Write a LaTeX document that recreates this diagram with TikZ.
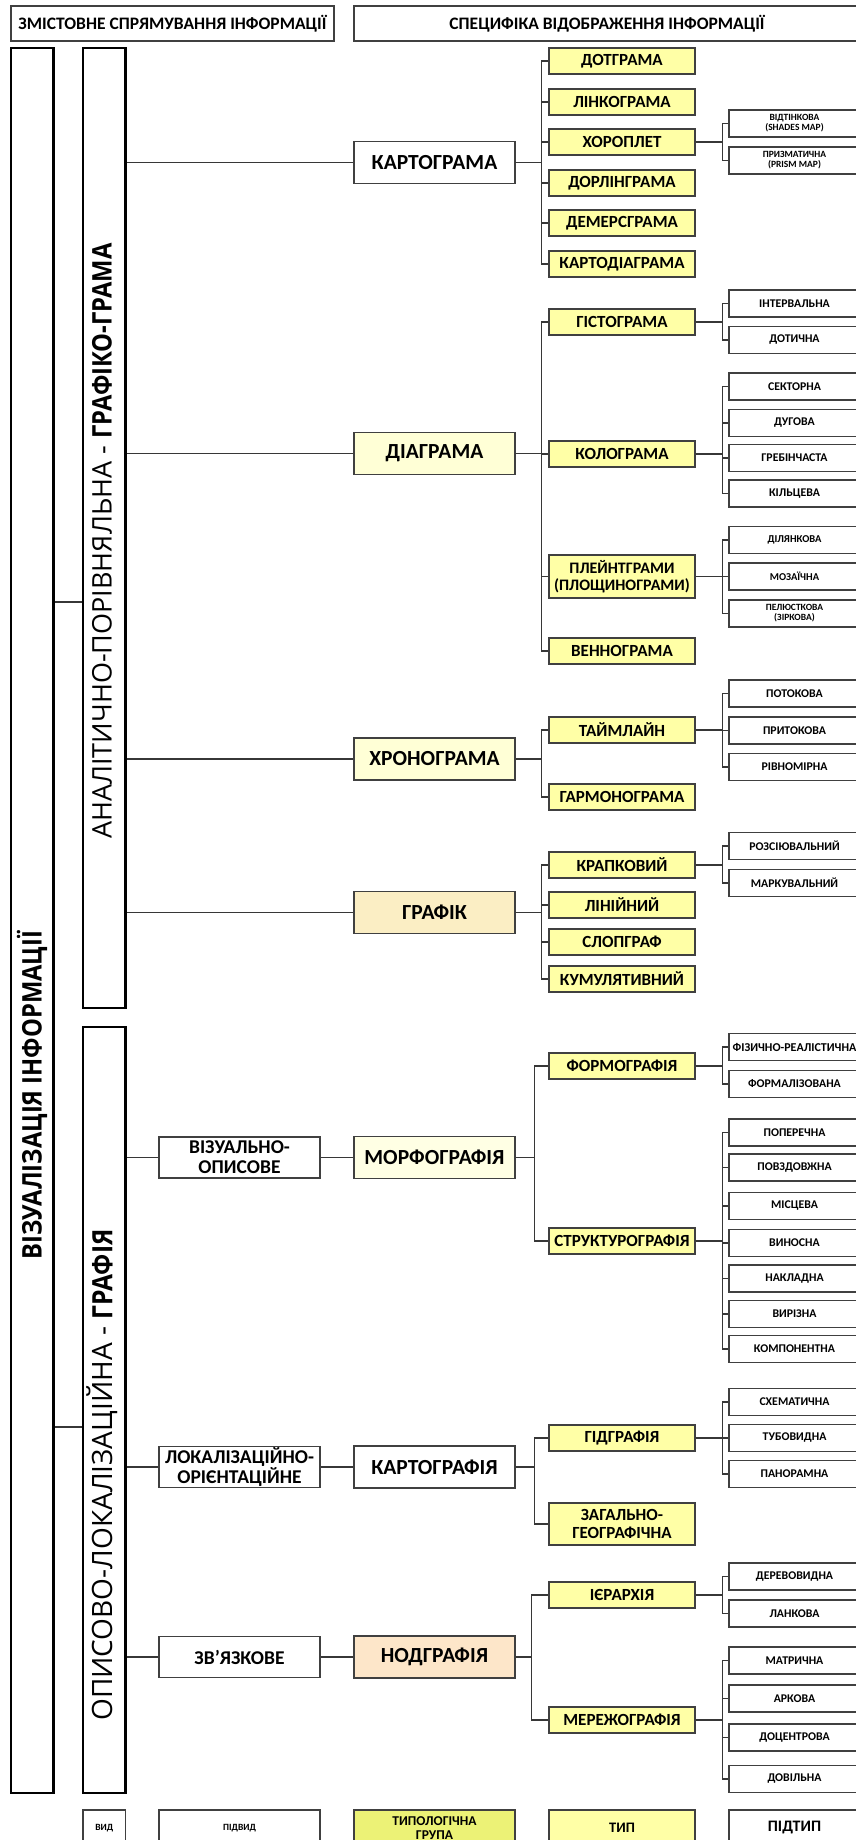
\documentclass[tikz,border=0pt]{standalone}
\usepackage{fontspec}
\setmainfont{Carlito}
\newfontfamily\gothic{Open Sans}
\newfontfamily\gothicn[FakeStretch=0.88]{Open Sans}
\definecolor{boxline}{RGB}{64,64,64}
\definecolor{linegray}{RGB}{55,55,55}
\definecolor{typeyellow}{RGB}{255,255,166}
\definecolor{paleyellow}{RGB}{255,255,214}
\definecolor{morphyellow}{RGB}{255,255,228}
\definecolor{grafikbeige}{RGB}{251,238,196}
\definecolor{nodpeach}{RGB}{253,230,201}
\definecolor{groupgreen}{RGB}{236,242,118}

\begin{document}
\begin{tikzpicture}[x=1pt,y=-1pt,
  box/.style={draw=boxline,line width=1.1pt,inner sep=1pt,align=center,text=black},
  grp/.style={box,fill=white,minimum width=161pt,minimum height=42pt,font=\fontsize{21.5}{23}\selectfont\bfseries},
  sub/.style={box,fill=white,minimum width=161pt,minimum height=41pt,font=\fontsize{19.5}{20}\selectfont\bfseries},
  typ/.style={box,fill=typeyellow,minimum width=146pt,minimum height=26pt,font=\fontsize{17}{18}\selectfont\bfseries},
  sty/.style={box,fill=white,minimum width=131pt,minimum height=27pt,font=\fontsize{11.8}{13}\selectfont\bfseries},
  tiny/.style={font=\fontsize{9.5}{10}\selectfont\bfseries},
  col/.style={draw=black,line width=2.6pt,inner sep=0pt,minimum width=42.5pt},
  link/.style={draw=linegray,line width=1.1pt},
]
  \useasboundingbox (0,0) rectangle (856,1840);
  \clip (0,0) rectangle (856,1840);

  % headers:
  \node[box,minimum width=323pt,minimum height=35pt,font=\fontsize{17.5}{18}\selectfont\bfseries] (hzmist) at (172.5,23.5) {ЗМІСТОВНЕ СПРЯМУВАННЯ ІНФОРМАЦІЇ};
  \node[box,minimum width=506pt,minimum height=35pt,font=\fontsize{17.5}{18}\selectfont\bfseries] (hspec) at (607,23.5) {СПЕЦИФІКА ВІДОБРАЖЕННЯ ІНФОРМАЦІЇ};

  % columns:
  \node[col,minimum height=1745pt] (viz) at (32.25,920.5) {};
  \node[col,minimum height=960pt] (anal) at (104.25,528) {};
  \node[col,minimum height=766pt] (opys) at (104.25,1410) {};
  \node[rotate=90,font=\gothicn\bfseries\fontsize{27}{27}\selectfont] (viztext) at (32,1095) {ВІЗУАЛІЗАЦІЯ ІНФОРМАЦІЇ};
  \node[rotate=90,font=\gothic\fontsize{27}{27}\selectfont] (analtext) at (102,541) {АНАЛІТИЧНО-ПОРІВНЯЛЬНА - {\gothicn\bfseries ГРАФІКО-ГРАМА}};
  \node[rotate=90,font=\gothic\fontsize{28}{28}\selectfont] (opystext) at (102,1475) {ОПИСОВО-ЛОКАЛІЗАЦІЙНА - {\gothicn\bfseries ГРАФІЯ}};
  \coordinate (jointA) at (68,602);
  \coordinate (jointB) at (68,1427);
  \draw[link] (viz.east |- jointA) -- (anal.west |- jointA);
  \draw[link] (viz.east |- jointB) -- (opys.west |- jointB);

  % groups:
  \node[grp] (kartograma) at (434.5,162.5) {КАРТОГРАМА};
  \node[grp,fill=paleyellow] (diagrama) at (434.5,453.5) {ДІАГРАМА};
  \node[grp,fill=paleyellow] (chronograma) at (434.5,759) {ХРОНОГРАМА};
  \node[grp,fill=grafikbeige] (grafik) at (434.5,912.5) {ГРАФІК};
  \node[grp,fill=morphyellow] (morfografia) at (434.5,1157.5) {МОРФОГРАФІЯ};
  \node[grp] (kartografia) at (434.5,1467) {КАРТОГРАФІЯ};
  \node[grp,fill=nodpeach] (nodgrafia) at (434.5,1657) {НОДГРАФІЯ};
  \node[sub] (vizopys) at (239.5,1157.5) {ВІЗУАЛЬНО-\\ОПИСОВЕ};
  \node[sub] (lokor) at (239.5,1467) {ЛОКАЛІЗАЦІЙНО-\\ОРІЄНТАЦІЙНЕ};
  \node[sub] (zviaz) at (239.5,1657) {ЗВ’ЯЗКОВЕ};

  % types:
  \foreach \n/\y/\t in {dotgr/61/ДОТГРАМА, linkogr/102/ЛІНКОГРАМА, choropl/142/ХОРОПЛЕТ,
      dorling/183/ДОРЛІНГРАМА, demers/223/ДЕМЕРСГРАМА, kartodiag/264/КАРТОДІАГРАМА,
      histogr/322/ГІСТОГРАМА, kologr/454/КОЛОГРАМА, venngr/651/ВЕННОГРАМА,
      timeline/730/ТАЙМЛАЙН, garmon/797/ГАРМОНОГРАМА,
      krapk/865/КРАПКОВИЙ, liniin/905/ЛІНІЙНИЙ, slopgr/942/СЛОПГРАФ, kumul/979/КУМУЛЯТИВНИЙ,
      formogr/1066/ФОРМОГРАФІЯ, struktur/1241/СТРУКТУРОГРАФІЯ,
      gidgr/1438/ГІДГРАФІЯ, ierarch/1595/ІЄРАРХІЯ, merezh/1720/МЕРЕЖОГРАФІЯ}
    \node[typ] (\n) at (622,\y) {\t};
  \node[typ,minimum height=43pt,font=\fontsize{16}{17.5}\selectfont\bfseries] (pleint) at (622,576.5) {ПЛЕЙНТГРАМИ\\(ПЛОЩИНОГРАМИ)};
  \node[typ,minimum height=42pt] (zagal) at (622,1524) {ЗАГАЛЬНО-\\ГЕОГРАФІЧНА};

  % subtypes:
  \foreach \n/\y/\t in {interv/303.5/ІНТЕРВАЛЬНА, dotych/340/ДОТИЧНА,
      sektor/386.5/СЕКТОРНА, dugova/423/ДУГОВА, grebin/458/ГРЕБІНЧАСТА, kilc/493.5/КІЛЬЦЕВА,
      potok/693.5/ПОТОКОВА, pritok/730.5/ПРИТОКОВА, rivnom/767/РІВНОМІРНА,
      rozsiy/846/РОЗСІЮВАЛЬНИЙ, markuv/883/МАРКУВАЛЬНИЙ,
      formal/1084/ФОРМАЛІЗОВАНА,
      poperech/1132.5/ПОПЕРЕЧНА, povzd/1167.5/ПОВЗДОВЖНА, miscev/1206/МІСЦЕВА,
      vynosn/1243/ВИНОСНА, nakladn/1278.5/НАКЛАДНА, vyrizn/1314/ВИРІЗНА, kompon/1349/КОМПОНЕНТНА,
      schemat/1402/СХЕМАТИЧНА, tubovyd/1438/ТУБОВИДНА, panoram/1474/ПАНОРАМНА,
      derevo/1576.5/ДЕРЕВОВИДНА, lankova/1613.5/ЛАНКОВА,
      matrych/1660.5/МАТРИЧНА, arkova/1698.5/АРКОВА, docentr/1737.5/ДОЦЕНТРОВА, dovilna/1779/ДОВІЛЬНА}
    \node[sty] (\n) at (794.5,\y) {\t};
  \node[sty,tiny] (shades) at (794.5,123.5) {ВІДТІНКОВА\\(SHADES MAP)};
  \node[sty,tiny] (prism) at (794.5,160.5) {ПРИЗМАТИЧНА\\(PRISM MAP)};
  \node[sty,font=\fontsize{10.5}{11}\selectfont\bfseries] (dilyank) at (794.5,540) {ДІЛЯНКОВА};
  \node[sty,font=\fontsize{10.5}{11}\selectfont\bfseries] (mozaich) at (794.5,576.5) {МОЗАЇЧНА};
  \node[sty,tiny] (pelyust) at (794.5,613.5) {ПЕЛЮСТКОВА\\(ЗІРКОВА)};
  \node[sty,font=\fontsize{12}{12}\selectfont\bfseries] (fizreal) at (794.5,1047) {ФІЗИЧНО-РЕАЛІСТИЧНА};

  % connectors:
  \begin{scope}[link]
    \foreach \g in {kartograma,diagrama,chronograma,grafik}
      \draw (anal.east |- \g) -- (\g.west);
    \foreach \s in {vizopys,lokor,zviaz}
      \draw (opys.east |- \s) -- (\s.west);
    \draw (vizopys.east) -- (morfografia.west);
    \draw (lokor.east) -- (kartografia.west);
    \draw (zviaz.east) -- (nodgrafia.west);
    % groups to types:
    \foreach \c in {dotgr,linkogr,choropl,dorling,demers,kartodiag}
      \draw (kartograma.east) -| ([xshift=-7pt]\c.west) -- (\c.west);
    \foreach \c in {histogr,kologr,pleint,venngr}
      \draw (diagrama.east) -| ([xshift=-7pt]\c.west) -- (\c.west);
    \foreach \c in {timeline,garmon}
      \draw (chronograma.east) -| ([xshift=-7pt]\c.west) -- (\c.west);
    \foreach \c in {krapk,liniin,slopgr,kumul}
      \draw (grafik.east) -| ([xshift=-7pt]\c.west) -- (\c.west);
    \foreach \c in {formogr,struktur}
      \draw (morfografia.east) -| ([xshift=-14pt]\c.west) -- (\c.west);
    \foreach \c in {gidgr,zagal}
      \draw (kartografia.east) -| ([xshift=-14pt]\c.west) -- (\c.west);
    \foreach \c in {ierarch,merezh}
      \draw (nodgrafia.east) -| ([xshift=-17pt]\c.west) -- (\c.west);
    % types to subtypes:
    \foreach \p/\c in {choropl/shades, choropl/prism, histogr/interv, histogr/dotych,
        kologr/sektor, kologr/dugova, kologr/grebin, kologr/kilc,
        pleint/dilyank, pleint/mozaich, pleint/pelyust,
        timeline/potok, timeline/pritok, timeline/rivnom,
        krapk/rozsiy, krapk/markuv, formogr/fizreal, formogr/formal,
        struktur/poperech, struktur/povzd, struktur/miscev, struktur/vynosn,
        struktur/nakladn, struktur/vyrizn, struktur/kompon,
        gidgr/schemat, gidgr/tubovyd, gidgr/panoram,
        ierarch/derevo, ierarch/lankova,
        merezh/matrych, merezh/arkova, merezh/docentr, merezh/dovilna}
      \draw (\p.east) -| ([xshift=-6pt]\c.west) -- (\c.west);
  \end{scope}

  % legend:
  \node[box,minimum width=42.5pt,minimum height=36pt,tiny] (lvid) at (104.25,1828) {ВИД};
  \node[box,minimum width=161pt,minimum height=36pt,tiny] (lpidvid) at (239.5,1828) {ПІДВИД};
  \node[box,fill=groupgreen,minimum width=161pt,minimum height=36pt,font=\fontsize{13.5}{14}\selectfont\bfseries] (ltypgr) at (434.5,1828) {ТИПОЛОГІЧНА\\ГРУПА};
  \node[box,fill=typeyellow,minimum width=146pt,minimum height=36pt,font=\fontsize{14.5}{15}\selectfont\bfseries] (ltyp) at (622,1828) {ТИП};
  \node[box,fill=white,minimum width=131pt,minimum height=36pt,font=\fontsize{16}{16}\selectfont\bfseries] (lpidtyp) at (794.5,1828) {ПІДТИП};
\end{tikzpicture}
\end{document}
